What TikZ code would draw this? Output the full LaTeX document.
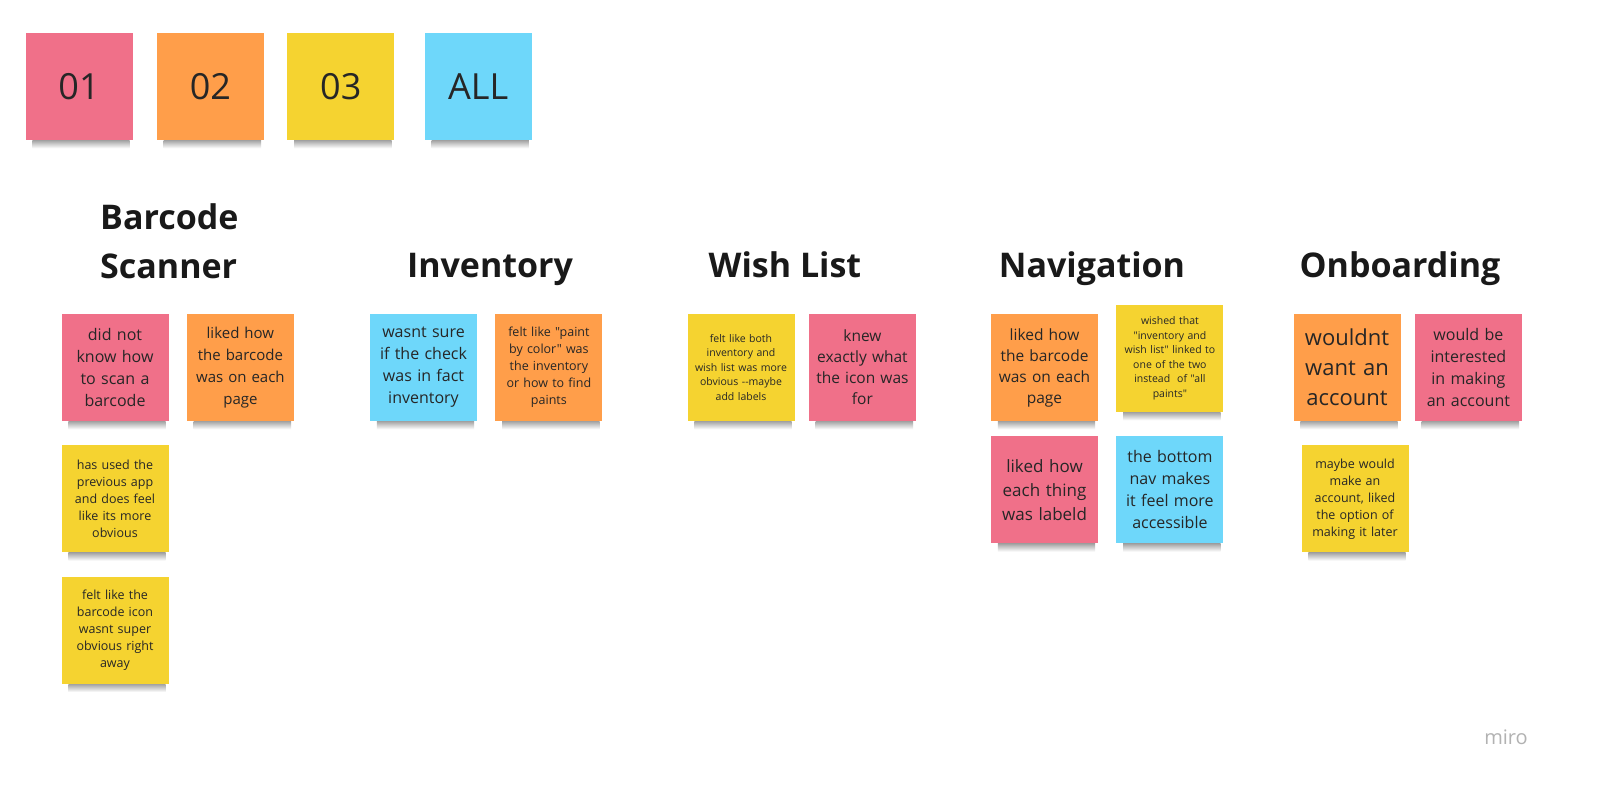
\documentclass[tikz,border=0pt]{standalone}
\usepackage{fontspec}
\setmainfont{Open Sans}[Ligatures=TeXOff]
\usetikzlibrary{positioning}
\definecolor{notepink}{RGB}{240,112,137}
\definecolor{noteorange}{RGB}{255,158,74}
\definecolor{noteyellow}{RGB}{245,211,48}
\definecolor{noteblue}{RGB}{110,215,250}

\begin{document}
\begin{tikzpicture}[x=1pt, y=-1pt,
        node distance = 24pt and 18pt,
        note/.style = {rectangle, fill=#1, inner sep=0pt, text=black!85,
                    minimum width=107pt, minimum height=107pt,
                    text width=100pt, align=center},
        sz/.style 2 args = {font=\fontsize{#1}{#2}\selectfont},
        heading/.style = {font=\fontsize{34}{49}\selectfont\bfseries, text=black!90, inner sep=0pt}
                    ]
        \useasboundingbox[fill=white] (0,0) rectangle (1600,797);
        % tags
        \node (t1) [note=notepink, sz={36}{44}] at (79,86.5) {01};
        \node (t2) [note=noteorange, sz={36}{44}, right=24pt of t1] {02};
        \node (t3) [note=noteyellow, sz={36}{44}, right=23pt of t2] {03};
        \node (t4) [note=noteblue, sz={36}{44}, right=30pt of t3] {ALL};
        % headings
        \node (hbar) [heading, align=left, anchor=north west] at (100,203) {Barcode\\Scanner};
        \node (hinv) [heading, anchor=base] at (490,277) {Inventory};
        \node (hwish) [heading, anchor=base] at (785,277) {Wish List};
        \node (hnav) [heading, anchor=base] at (1092,277) {Navigation};
        \node (hon) [heading, anchor=base] at (1400,277) {Onboarding};
        % barcode scanner
        \node (b1) [note=notepink, sz={16}{22}] at (115,367.5) {did not\\know how\\to scan a\\barcode};
        \node (b2) [note=noteorange, sz={15}{22}, right=of b1] {liked how\\the barcode\\was on each\\page};
        \node (b3) [note=noteyellow, sz={12.5}{17}, below=of b1] {has used the\\previous app\\and does feel\\like its more\\obvious};
        \node (b4) [note=noteyellow, sz={12.5}{17}, below=of b3] {felt like the\\barcode icon\\wasnt super\\obvious right\\away};
        % inventory
        \node (i1) [note=noteblue, sz={16}{22}] at (423.5,367.5) {wasnt sure\\if the check\\was in fact\\inventory};
        \node (i2) [note=noteorange, sz={12.5}{17}, right=of i1] {felt like "paint\\by color" was\\the inventory\\or how to find\\paints};
        % wish list
        \node (w1) [note=noteyellow, sz={10.5}{14.5}] at (741,367.5) {felt like both\\inventory and\\wish list was more\\obvious --maybe\\add labels};
        \node (w2) [note=notepink, sz={15.5}{21}, right=14pt of w1] {knew\\exactly what\\the icon was\\for};
        % navigation
        \node (n1) [note=noteorange, sz={15.5}{21}] at (1044.5,367.5) {liked how\\the barcode\\was on each\\page};
        \node (n2) [note=noteyellow, sz={10.5}{14.5}, right=of n1, yshift=9pt] {wished that\\"inventory and\\wish list" linked to\\one of the two\\instead~ of "all\\paints"};
        \node (n3) [note=notepink, sz={17}{24}, below=15pt of n1] {liked how\\each thing\\was labeld};
        \node (n4) [note=noteblue, sz={16}{22}, right=of n3] {the bottom\\nav makes\\it feel more\\accessible};
        % onboarding
        \node (o1) [note=noteorange, sz={22}{30}] at (1347,367.5) {wouldnt\\want an\\account};
        \node (o2) [note=notepink, sz={16}{22}, right=14pt of o1] {would be\\interested\\in making\\an account};
        \node (o3) [note=noteyellow, sz={12.5}{17}, below=of o1, xshift=8pt] {maybe would\\make an\\account, liked\\the option of\\making it later};
        %
        \foreach \n in {t1,t2,t3,t4,b1,b2,b3,b4,i1,i2,w1,w2,n1,n2,n3,n4,o1,o2,o3}
            \shade[top color=black!45, bottom color=white, opacity=0.8]
                ([xshift=7pt]\n.south west) rectangle ([xshift=-3pt, yshift=-8pt]\n.south east);
        \node (miro) [font=\fontsize{20}{24}\selectfont, text=black!30] at (1506,737) {miro};
    \end{tikzpicture}
\end{document}
